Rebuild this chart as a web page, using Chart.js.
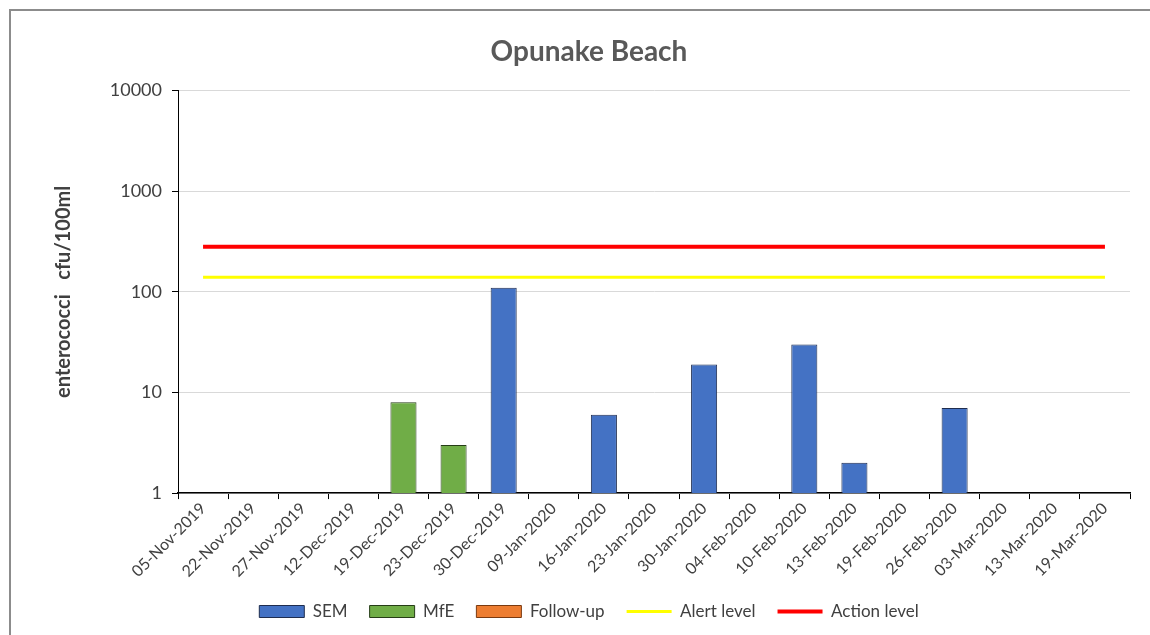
<!DOCTYPE html>
<html>
<head>
<meta charset="utf-8">
<script src="https://cdn.jsdelivr.net/npm/chart.js@4"></script>
<style>
  html, body { margin: 0; padding: 0; background: #fff; }
  #frame { position: absolute; left: 9px; top: 9px; width: 1145px; height: 630px; border: 2px solid #8c8c8c; box-sizing: border-box; }
  #wrap { position: absolute; left: 0; top: 0; width: 1150px; height: 635px; }
</style>
</head>
<body>
<div id="frame"></div>
<div id="wrap"><canvas id="chart1"></canvas></div>
<script>
// Opunake Beach - enterococci
const dates = ['05-Nov-2019', '22-Nov-2019', '27-Nov-2019', '12-Dec-2019', '19-Dec-2019', '23-Dec-2019',
  '30-Dec-2019', '09-Jan-2020', '16-Jan-2020', '23-Jan-2020', '30-Jan-2020', '04-Feb-2020', '10-Feb-2020',
  '13-Feb-2020', '19-Feb-2020', '26-Feb-2020', '03-Mar-2020', '13-Mar-2020', '19-Mar-2020'];
const sem = [1, 1, 1, 1, null, null, 110, 1, 6, 1, 19, 1, 30, 2, 1, 7, 1, 1, 1];
const mfe = [null, null, null, null, 8, 3, null, null, null, null, null, null, null, null, null, null, null, null, null];
const followUp = dates.map(() => null);
const alertLevel = dates.map(() => 140);
const actionLevel = dates.map(() => 280);
const yTicks = [1, 10, 100, 1000, 10000];

const font = "Lato, 'Open Sans', sans-serif";
Chart.defaults.font.family = font;
Chart.defaults.color = '#404040';

const ctx = document.getElementById('chart1').getContext('2d');
new Chart(ctx, {
  data: {
    labels: dates,
    datasets: [
      { type: 'bar', label: 'SEM', data: sem, backgroundColor: '#4472C4', borderColor: '#1f2d4f', borderWidth: 1, pointStyle: 'rect', order: 3 },
      { type: 'bar', label: 'MfE', data: mfe, backgroundColor: '#70AD47', borderColor: '#263d17', borderWidth: 1, pointStyle: 'rect', order: 3 },
      { type: 'bar', label: 'Follow-up', data: followUp, backgroundColor: '#ED7D31', borderColor: '#7a3a10', borderWidth: 1, pointStyle: 'rect', order: 3 },
      { type: 'line', label: 'Alert level', data: alertLevel, borderColor: '#FFFF00', backgroundColor: '#FFFF00', borderWidth: 3, pointRadius: 0, pointStyle: 'line', order: 1 },
      { type: 'line', label: 'Action level', data: actionLevel, borderColor: '#FF0000', backgroundColor: '#FF0000', borderWidth: 4, pointRadius: 0, pointStyle: 'line', order: 1 }
    ]
  },
  options: {
    responsive: true,
    maintainAspectRatio: false,
    animation: false,
    layout: { padding: { left: 48, right: 20, top: 35, bottom: 5 } },
    datasets: { bar: { barPercentage: 0.52, categoryPercentage: 1 } },
    scales: {
      x: {
        stacked: true,
        grid: { offset: true, drawOnChartArea: false, tickLength: 6, tickColor: '#000' },
        border: { color: '#000', width: 1.5 },
        ticks: { minRotation: 45, maxRotation: 45, color: '#404040', font: { size: 16 }, padding: 0 }
      },
      y: {
        type: 'logarithmic',
        min: 1,
        max: 10000,
        afterBuildTicks: scale => { scale.ticks = yTicks.map(v => ({ value: v })); },
        afterFit: scale => { scale.width = 130; },
        grid: { color: '#d9d9d9', tickLength: 6, tickColor: '#000' },
        border: { color: '#000', width: 1 },
        ticks: { color: '#404040', font: { size: 18 }, padding: 10, callback: v => String(v) },
        title: { display: true, text: 'enterococci   cfu/100ml', color: '#404040', font: { size: 20, weight: 'bold' }, padding: { bottom: 0 } }
      }
    },
    plugins: {
      title: { display: true, text: 'Opunake Beach', color: '#595959', font: { size: 28, weight: 'bold' }, padding: { top: 0, bottom: 22 } },
      legend: {
        position: 'bottom',
        labels: {
          usePointStyle: true, pointStyleWidth: 45, boxHeight: 12, color: '#404040', font: { size: 17 }, padding: 22,
          sort: (a, b) => a.datasetIndex - b.datasetIndex
        }
      },
      tooltip: { enabled: false }
    }
  }
});
</script>
</body>
</html>
